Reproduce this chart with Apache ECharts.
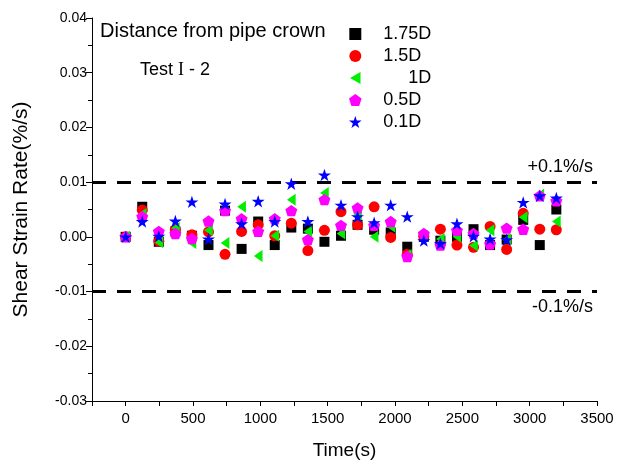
<!DOCTYPE html>
<html><head><meta charset="utf-8">
<script src="https://cdn.jsdelivr.net/npm/echarts@6/dist/echarts.min.js"></script>
<style>html,body{margin:0;padding:0;background:#fff}#c{width:627px;height:465px}</style>
</head><body><div id="c"></div>
<script>
// time stamps (s)
const times = [0,123,246,369,492,615,738,861,984,1107,1230,1353,1476,1599,1722,1845,1968,2091,2214,2337,2460,2583,2706,2829,2952,3075,3198];
const seriesNames = ['1.75D','1.5D','1D','0.5D','0.1D'];
const d175 = [0,0.0055,-0.0009,0.0010,0.0002,-0.0015,0.0048,-0.0022,0.0028,-0.0015,0.0017,0.0015,-0.0009,0.0002,0.0022,0.0013,0.0008,-0.0018,0.0000,-0.0007,0.0000,0.0014,-0.0015,-0.0005,0.0031,-0.0015,0.0050];
const d150 = [0,0.0049,-0.0008,0.0013,0.0004,0.0009,-0.0032,0.0010,0.0022,0.0002,0.0025,-0.0025,0.0012,0.0046,0.0022,0.0055,-0.0001,-0.0032,0.0001,0.0014,-0.0015,-0.0019,0.0019,-0.0023,0.0043,0.0014,0.0013];
const d100 = [0,0.0042,-0.0010,0.0016,-0.0011,0.0012,-0.0011,0.0055,-0.0035,0.0002,0.0068,0.0010,0.0080,0.0006,0.0042,0.0000,0.0019,-0.0033,0.0002,-0.0004,0.0000,-0.0016,0.0012,-0.0005,0.0036,0.0077,0.0028];
const d050 = [0,0.0037,0.0010,0.0006,-0.0003,0.0029,0.0048,0.0033,0.0010,0.0033,0.0048,-0.0005,0.0068,0.0021,0.0053,0.0021,0.0028,-0.0036,0.0006,-0.0015,0.0012,0.0006,-0.0013,0.0016,0.0014,0.0075,0.0066];
const d010 = [0,0.0028,0.0001,0.0029,0.0064,-0.0004,0.0060,0.0024,0.0065,0.0028,0.0097,0.0028,0.0113,0.0058,0.0037,0.0026,0.0058,0.0037,-0.0007,-0.0012,0.0024,0.0001,-0.0004,-0.0005,0.0063,0.0075,0.0071];
const limits = [0.01, -0.01];
const limitLabels = ['+0.1%/s', '-0.1%/s'];

// symbol shapes (style only)
function starPath(){
  let s='path://';
  for(let k=0;k<10;k++){
    const r = k%2===0?50:19.1;
    const a = -Math.PI/2 + k*Math.PI/5;
    s += (k===0?'M':'L') + (50+r*Math.cos(a)).toFixed(2)+','+(50+r*Math.sin(a)).toFixed(2)+' ';
  }
  return s+'Z';
}
const squarePath = 'path://M0,0 L100,0 L100,100 L0,100 Z';
const pentPath = 'path://M50,0 L97.55,34.55 L79.39,90.45 L20.61,90.45 L2.45,34.55 Z';
const triLeft = 'path://M0,50 L86.6,0 L86.6,100 Z';
const styles = [
  {color:'#000000', symbol:squarePath, size:10},
  {color:'#ff0000', symbol:'circle', size:11},
  {color:'#00ee00', symbol:triLeft, size:[10,12]},
  {color:'#ff00ff', symbol:pentPath, size:12},
  {color:'#0000ff', symbol:starPath(), size:13}
];
const allData = [d175,d150,d100,d050,d010];
const FONT = 'Liberation Sans, Arial, sans-serif';

const series = allData.map((arr,i)=>({
  name: seriesNames[i],
  type:'scatter',
  symbol: styles[i].symbol,
  symbolSize: styles[i].size,
  symbolKeepAspect: true,
  itemStyle:{color:styles[i].color, opacity:1},
  data: arr.map((v,j)=>[times[j], v]),
  z: 2+i
}));
series[0].markLine = {
  silent:true, symbol:'none',
  lineStyle:{color:'#000', width:3, type:[14,11]},
  label:{show:true, formatter:p=>limitLabels[limits.indexOf(p.value)], color:'#000', fontSize:18, fontFamily:FONT, distance:[4,6]},
  data: limits.map((v,k)=>({yAxis:v, label:{position: k===0?'insideEndTop':'insideEndBottom'}}))
};

const chart = echarts.init(document.getElementById('c'), null, {renderer:'canvas'});
chart.setOption({
  animation:false,
  backgroundColor:'#fff',
  grid:{left:92, right:30, top:18, bottom:63},
  xAxis:{
    type:'value', min:-250, max:3500, interval:250,
    name:'Time(s)', nameLocation:'middle', nameGap:40,
    nameTextStyle:{fontSize:19, color:'#000', fontFamily:FONT},
    axisLine:{onZero:false, lineStyle:{color:'#000', width:1}},
    axisTick:{show:true, inside:false, length:5, lineStyle:{color:'#000'}},
    axisLabel:{fontSize:15, color:'#000', fontFamily:FONT, margin:10,
      formatter:v=> (v<0 || v%500!==0) ? '' : String(v)},
    splitLine:{show:false}
  },
  yAxis:{
    type:'value', min:-0.03, max:0.04, interval:0.01,
    name:'Shear Strain Rate(%/s)', nameLocation:'middle', nameGap:60,
    nameTextStyle:{fontSize:21, color:'#000', fontFamily:FONT},
    axisLine:{show:true, onZero:false, lineStyle:{color:'#000', width:1}},
    axisTick:{show:true, inside:false, length:6, lineStyle:{color:'#000'}},
    minorTick:{show:true, splitNumber:2, length:4, lineStyle:{color:'#000'}},
    axisLabel:{fontSize:14, color:'#000', fontFamily:FONT, margin:5, formatter:v=>v.toFixed(2)},
    splitLine:{show:false}
  },
  legend:{
    orient:'vertical', left:344, top:20, itemWidth:46, itemHeight:12, itemGap:4,
    symbolKeepAspect:true,
    data: seriesNames,
    formatter: n => n==='1D' ? '     1D' : n,
    textStyle:{fontSize:18, color:'#000', fontFamily:FONT}
  },
  graphic:[
    {type:'text', left:100, top:21, style:{text:'Distance from pipe crown', font:'20px Liberation Sans, Arial, sans-serif', fill:'#000'}},
    {type:'text', left:140, top:61, style:{text:'Test {r|I} - 2', font:'18px Liberation Sans, Arial, sans-serif', fill:'#000',
      rich:{r:{fontFamily:'Liberation Serif, Times New Roman, serif', fontSize:18}}}}
  ],
  series: series
});
</script></body></html>
